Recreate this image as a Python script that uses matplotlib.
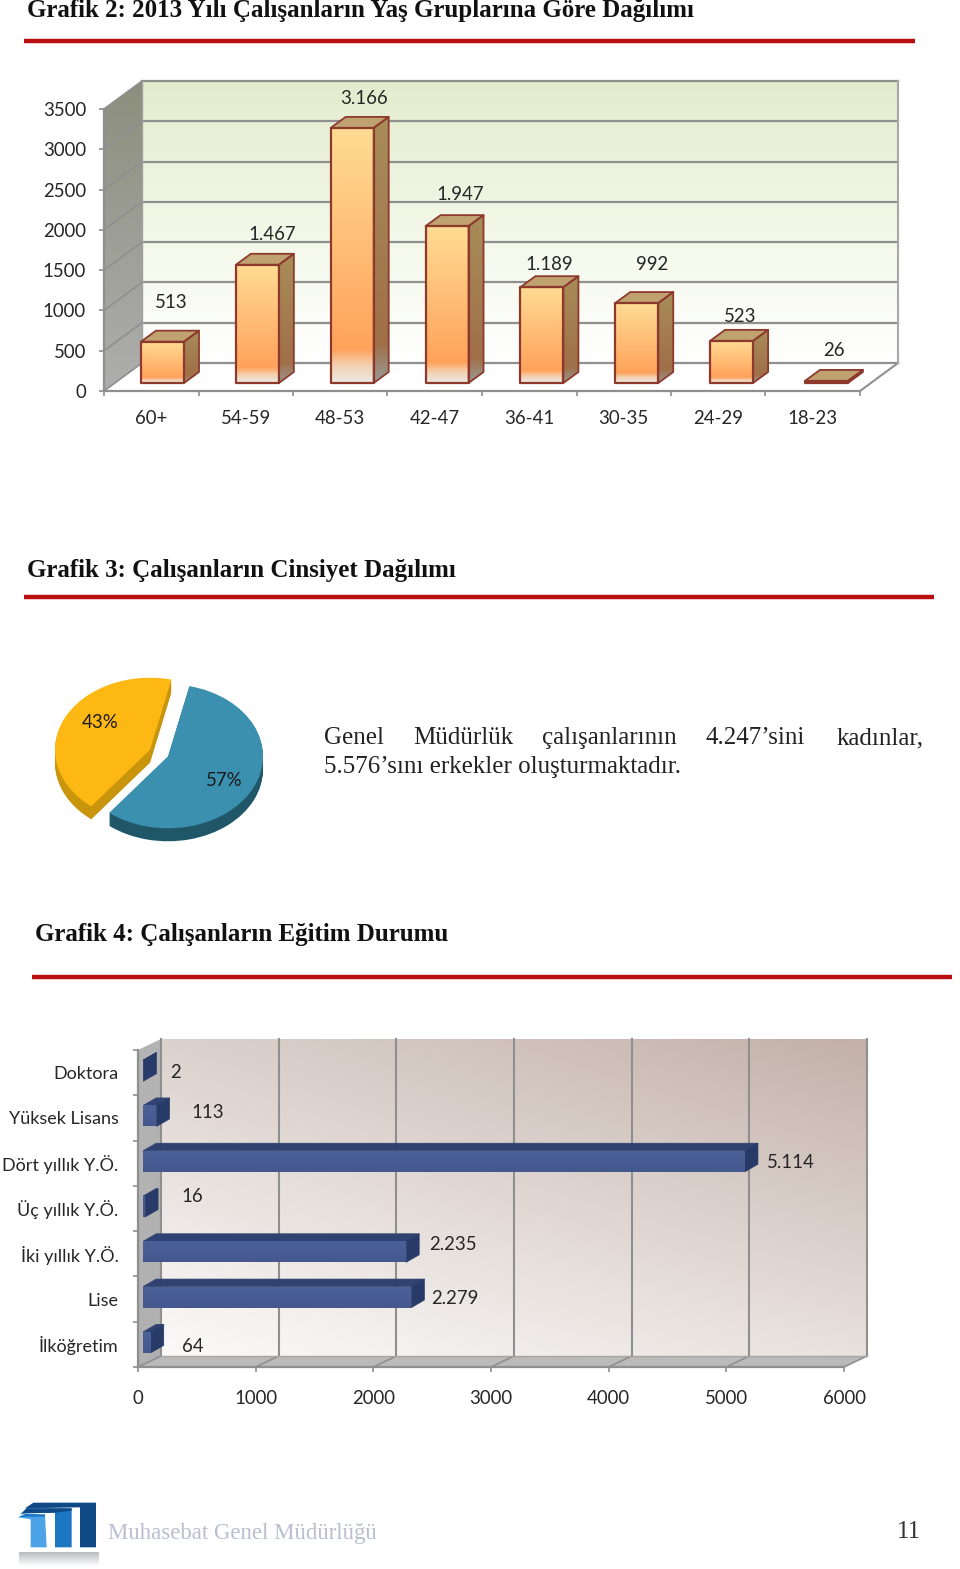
import numpy as np
import matplotlib
matplotlib.use("Agg")
import matplotlib.pyplot as plt
from matplotlib.patches import Polygon
from matplotlib.colors import to_rgb

# ---------- data ----------
age_groups = ["60+", "54-59", "48-53", "42-47", "36-41", "30-35", "24-29", "18-23"]
age_counts = [513, 1467, 3166, 1947, 1189, 992, 523, 26]
age_labels = ["513", "1.467", "3.166", "1.947", "1.189", "992", "523", "26"]
age_ticks = [0, 500, 1000, 1500, 2000, 2500, 3000, 3500]

gender_share = [43, 57]
gender_labels = ["43%", "57%"]

edu_groups = ["Doktora", "Yüksek Lisans", "Dört yıllık Y.Ö.", "Üç yıllık Y.Ö.",
              "İki yıllık Y.Ö.", "Lise", "İlköğretim"]
edu_counts = [2, 113, 5114, 16, 2235, 2279, 64]
edu_labels = ["2", "113", "5.114", "16", "2.235", "2.279", "64"]
edu_ticks = [0, 1000, 2000, 3000, 4000, 5000, 6000]

# ---------- layout (pixels) ----------
W, H = 960, 1569
age_label_pos = [(171, 303), (272, 235), (364, 99), (460, 195), (549, 264), (652, 264), (740, 316), (834, 350)]
edu_label_pos = [(176, 1072), (208, 1113), (791, 1163), (192, 1197), (453, 1245), (455, 1298), (193, 1346)]
SANS = "Lato"
SERIF = "Liberation Serif"
TXT = "#262626"
GRID = "#8f8f8f"
FS = 13.4

fig = plt.figure(figsize=(W / 100, H / 100), dpi=100, facecolor="white")


def axes_px(l, t, r, b, **kw):
    return fig.add_axes([l / W, 1 - b / H, (r - l) / W, (b - t) / H], **kw)


bg = axes_px(0, 0, W, H)
bg.set_xlim(0, W)
bg.set_ylim(H, 0)
bg.axis("off")
bg.set_zorder(5)
bg.patch.set_alpha(0)


def ramp(stops, n=256):
    pos = [s[0] for s in stops]
    cols = np.array([to_rgb(s[1]) for s in stops])
    t = np.linspace(0, 1, n)
    return np.stack([np.interp(t, pos, cols[:, k]) for k in range(3)], axis=1)[:, None, :]


def fill_gradient(ax, verts, img, zorder):
    v = np.array(verts, float)
    x0, x1, y0, y1 = v[:, 0].min(), v[:, 0].max(), v[:, 1].min(), v[:, 1].max()
    yb, yt = (y1, y0) if ax.yaxis_inverted() else (y0, y1)
    im = ax.imshow(img, extent=(x0, x1, yb, yt), origin="upper", aspect="auto",
                   zorder=zorder, interpolation="bilinear")
    clip = Polygon(v, closed=True, transform=ax.transData)
    im.set_clip_path(clip)
    im.set_clip_box(fig.bbox)
    return im


def poly(ax, verts, zorder, fc="none", ec="none", lw=0):
    p = Polygon(verts, closed=True, facecolor=fc, edgecolor=ec, linewidth=lw,
                zorder=zorder, clip_on=False, joinstyle="round")
    ax.add_patch(p)
    return p


# ---------- headings ----------
for txt, x, y in [("Grafik 2: 2013 Yılı Çalışanların Yaş Gruplarına Göre Dağılımı", 27, 11),
                  ("Grafik 3: Çalışanların Cinsiyet Dağılımı", 27, 570),
                  ("Grafik 4: Çalışanların Eğitim Durumu", 35, 934)]:
    bg.text(x, y, txt, family=SERIF, weight="bold", fontsize=18, color="#111111", va="center", ha="left")
for x0, x1, y in [(24, 915, 41), (24, 934, 597), (32, 952, 977)]:
    bg.plot([x0, x1], [y, y], color="#b90f0f", lw=3.2, solid_capstyle="butt")

# ---------- chart 1: age groups ----------
a1 = axes_px(104, 109, 860, 391)
a1.patch.set_visible(False)
a1.set_xlim(0, 8)
a1.set_ylim(0, 3500)
DX, DY = 38 / 94.5, 28 / (282 / 3500)        # depth of the box
BDX, BDY = 15 / 94.5, 11 / (282 / 3500)      # depth of each bar
BW = 43 / 94.5
BASE = 8 / (282 / 3500)
BAR_STEP = 94.85 / 94.5
BAR_X0 = 37 / 94.5

wall = [(0, 0), (DX, DY), (DX, 3500 + DY), (0, 3500)]
fill_gradient(a1, wall, ramp([(0, "#8c8f7d"), (1, "#aeaeae")]), 1)
back = [(DX, DY), (8 + DX, DY), (8 + DX, 3500 + DY), (DX, 3500 + DY)]
fill_gradient(a1, back, ramp([(0, "#e3ecce"), (0.55, "#f4f8e9"), (1, "#ffffff")]), 1)

for v in age_ticks:
    a1.plot([DX, 8 + DX], [v + DY, v + DY], color=GRID, lw=1.6, zorder=2, clip_on=False)
    a1.plot([0, DX], [v, v + DY], color=GRID, lw=1.2, zorder=2, clip_on=False)
a1.plot([8, 8 + DX], [0, DY], color=GRID, lw=1.5, zorder=2, clip_on=False)
a1.plot([8 + DX, 8 + DX], [DY, 3500 + DY], color="#a8a8a8", lw=1.5, zorder=2, clip_on=False)
a1.plot([DX, DX], [DY, 3500 + DY], color="#a0a0a0", lw=1, zorder=2, clip_on=False)

face_img = ramp([(0, "#ffdc94"), (0.87, "#ffa25b"), (0.93, "#f3d0b0"), (1, "#ece9e4")])
side_img = ramp([(0, "#a88d5a"), (0.85, "#a06f48"), (1, "#9a9a98")])
EDGE = "#8d3a2c"
for i, v in enumerate(age_counts):
    x0, x1 = i * BAR_STEP + BAR_X0, i * BAR_STEP + BAR_X0 + BW
    y0, y1 = BASE, BASE + v
    fill_gradient(a1, [(x0, y0), (x1, y0), (x1, y1), (x0, y1)], face_img, 3)
    side = [(x1, y0), (x1 + BDX, y0 + BDY), (x1 + BDX, y1 + BDY), (x1, y1)]
    fill_gradient(a1, side, side_img, 3)
    top = [(x0, y1), (x1, y1), (x1 + BDX, y1 + BDY), (x0 + BDX, y1 + BDY)]
    poly(a1, top, 4, fc="#bfa26f", ec=EDGE, lw=1.3)
    poly(a1, side, 4, ec=EDGE, lw=1.3)
    poly(a1, [(x0, y0), (x1, y0), (x1, y1), (x0, y1)], 4, ec=EDGE, lw=1.6)

for s in ("top", "right"):
    a1.spines[s].set_visible(False)
for s in ("left", "bottom"):
    a1.spines[s].set_color(GRID)
    a1.spines[s].set_linewidth(1.6)
    a1.spines[s].set_zorder(5)
a1.set_yticks(age_ticks)
a1.set_yticklabels([str(v) for v in age_ticks])
a1.set_xticks(range(9))
a1.set_xticklabels([])
a1.set_xticks(np.arange(8) + 0.5, minor=True)
a1.set_xticklabels(age_groups, minor=True)
a1.tick_params(axis="both", which="major", length=3.5, width=1.2, color=GRID)
a1.tick_params(axis="y", pad=9.5, labelsize=FS, labelcolor=TXT, labelfontfamily=SANS)
a1.tick_params(axis="x", which="minor", length=0, pad=14, labelsize=FS, labelcolor=TXT, labelfontfamily=SANS)
a1.set_xlim(0, 8)
a1.set_ylim(0, 3500)

for lab, (x, y) in zip(age_labels, age_label_pos):
    bg.text(x, y, lab, family=SANS, fontsize=FS, color=TXT, ha="center", va="center")

# ---------- chart 3: gender pie ----------
CY = 753
pie_ax = axes_px(159 - 95 * 1.4, CY - 72 * 1.4, 159 + 95 * 1.4, CY + 72 * 1.4)
DEPTH_PX = 13
for k in range(DEPTH_PX, -1, -1):
    cols = ["#fdb813", "#3a90ae"] if k == 0 else ["#c9950c", "#1f5668"]
    pie_ax.pie(gender_share, startangle=77, counterclock=True, colors=cols,
               explode=[0.105, 0.105], center=(0, -k / 72), radius=1)
pie_ax.set_aspect("auto")
pie_ax.set_xlim(-1.4, 1.4)
pie_ax.set_ylim(-1.4, 1.4)
pie_ax.axis("off")
for lab, (x, y) in zip(gender_labels, [(100, 722), (224, 780)]):
    bg.text(x, y, lab, family=SANS, fontsize=FS, color="#1a1a1a", ha="center", va="center")

for word, x in [("Genel", 324), ("Müdürlük", 413), ("çalışanlarının", 542), ("4.247’sini", 706), ("kadınlar,", 837)]:
    bg.text(x, 738, word, family=SERIF, fontsize=18, color="#222222", ha="left", va="center")
bg.text(324, 767, "5.576’sını erkekler oluşturmaktadır.", family=SERIF, fontsize=18, color="#222222", ha="left", va="center")

# ---------- chart 4: education ----------
a2 = axes_px(138, 1050, 844, 1367)
a2.patch.set_visible(False)
a2.set_xlim(0, 6000)
a2.set_ylim(7, 0)
SX, SY = 1000 / 117.7, 7 / 317            # units per pixel
EDX, EDY = 23 * SX, 11 * SY               # depth of the box

wall2 = [(0, 7), (EDX, 7 - EDY), (EDX, -EDY), (0, 0)]
fill_gradient(a2, wall2, ramp([(0, "#b4b4b4"), (1, "#b0b0b0")]), 1)
floor2 = [(0, 7), (6000, 7), (6000 + EDX, 7 - EDY), (EDX, 7 - EDY)]
poly(a2, floor2, 1, fc="#bababa")

u = np.linspace(0, 1, 64)[None, :, None]
v_ = np.linspace(0, 1, 64)[:, None, None]
c_tl, c_tr = np.array(to_rgb("#dcd2cd")), np.array(to_rgb("#c3b1a9"))
c_bl, c_br = np.array(to_rgb("#fbfaf9")), np.array(to_rgb("#e8e1dd"))
wall_img = (1 - v_) * ((1 - u) * c_tl + u * c_tr) + v_ * ((1 - u) * c_bl + u * c_br)
back2 = [(EDX, 7 - EDY), (6000 + EDX, 7 - EDY), (6000 + EDX, -EDY), (EDX, -EDY)]
fill_gradient(a2, back2, wall_img, 1)

for v in edu_ticks:
    a2.plot([v + EDX, v + EDX], [7 - EDY, -EDY], color=GRID, lw=1.5, zorder=2, clip_on=False)
    a2.plot([v, v + EDX], [7, 7 - EDY], color=GRID, lw=1.2, zorder=2, clip_on=False)
a2.plot([EDX, 6000 + EDX], [7 - EDY, 7 - EDY], color="#a5a5a5", lw=1, zorder=2, clip_on=False)

BX0 = 5.2 * SX
BAR_H = 21 * SY
BAR_UP = 2 * SY
BDX2, BDY2 = 13 * SX, 7.5 * SY
front_img = ramp([(0, "#4c6198"), (1, "#44588e")])
for i, v in enumerate(edu_counts):
    yc = i + 0.5 - BAR_UP
    yt, yb = yc - BAR_H / 2, yc + BAR_H / 2
    x0, x1 = BX0, BX0 + v
    top = [(x0, yt), (x1, yt), (x1 + BDX2, yt - BDY2), (x0 + BDX2, yt - BDY2)]
    side = [(x1, yt), (x1 + BDX2, yt - BDY2), (x1 + BDX2, yb - BDY2), (x1, yb)]
    poly(a2, top, 3, fc="#2f4272", ec="#2f4272", lw=0.5)
    poly(a2, side, 3, fc="#283a68", ec="#283a68", lw=0.5)
    if v > 10:
        fill_gradient(a2, [(x0, yt), (x1, yt), (x1, yb), (x0, yb)], front_img, 3.5)

for s in ("top", "right"):
    a2.spines[s].set_visible(False)
for s in ("left", "bottom"):
    a2.spines[s].set_color(GRID)
    a2.spines[s].set_linewidth(1.6)
    a2.spines[s].set_zorder(5)
a2.set_xticks(edu_ticks)
a2.set_xticklabels([str(v) for v in edu_ticks])
a2.set_yticks(range(8))
a2.set_yticklabels([])
a2.set_yticks(np.arange(7) + 0.5, minor=True)
a2.set_yticklabels(edu_groups, minor=True)
a2.tick_params(axis="both", which="major", length=3.5, width=1.2, color=GRID)
a2.tick_params(axis="x", pad=13, labelsize=FS, labelcolor=TXT, labelfontfamily=SANS)
a2.tick_params(axis="y", which="minor", length=0, pad=14, labelsize=13.0, labelcolor=TXT, labelfontfamily=SANS)
a2.set_xlim(0, 6000)
a2.set_ylim(7, 0)

for lab, (x, y) in zip(edu_labels, edu_label_pos):
    bg.text(x, y, lab, family=SANS, fontsize=FS, color=TXT, ha="center", va="center")


# ---------- footer ----------
def lg(pts):
    return [(x / 3, 1480 + y / 3) for x, y in pts]


fill_gradient(bg, lg([(58, 216), (298, 216), (298, 258), (58, 258)]),
              ramp([(0, "#b9bcbf"), (1, "#ffffff")]), 1)
poly(bg, lg([(75, 85), (100, 68), (288, 68), (288, 202), (240, 202), (240, 82)]), 2, fc="#0f4a86")
poly(bg, lg([(60, 104), (80, 85), (215, 85), (215, 202), (165, 202), (165, 98), (75, 100)]), 3, fc="#1b76c4")
poly(bg, lg([(80, 85), (215, 85), (215, 92), (165, 98), (75, 100), (65, 100)]), 3.5, fc="#0f4a86")
poly(bg, lg([(55, 112), (75, 102), (135, 105), (140, 202), (92, 202), (92, 118)]), 4, fc="#4ca3e8")
poly(bg, lg([(55, 112), (75, 102), (135, 103), (135, 110), (75, 110)]), 4.5, fc="#1b76c4")
bg.set_xlim(0, W)
bg.set_ylim(H, 0)
bg.text(108, 1533, "Muhasebat Genel Müdürlüğü", family=SERIF, fontsize=16.4, color="#b9bfd0", ha="left", va="center")
bg.text(909, 1532, "11", family=SERIF, fontsize=18, color="#333333", ha="center", va="center")

fig.savefig("out.png", dpi=100)
